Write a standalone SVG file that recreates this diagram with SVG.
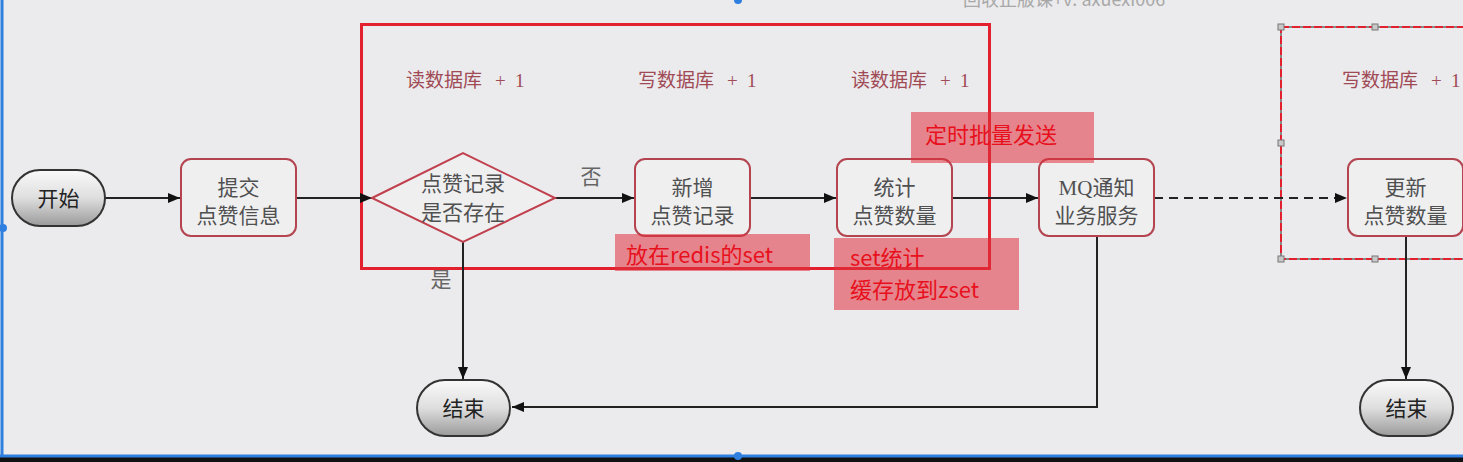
<svg xmlns="http://www.w3.org/2000/svg" width="1463" height="462" viewBox="0 0 1463 462">
<style>
.node rect.box{fill:#efeff0;stroke:#b4444f;stroke-width:2}
.t{font-family:"Noto Sans CJK SC","Noto Sans",sans-serif;font-size:21px;fill:#505050;text-anchor:middle}
.lbl{font-family:"Noto Sans CJK SC","Liberation Serif",serif;font-size:19px;fill:#a04a55}
.note{font-family:"Noto Sans CJK SC","Noto Sans",sans-serif;font-size:22px;fill:#e8101c}
.pink{fill:#e0303c;fill-opacity:0.55}
.pill{fill:url(#pg);stroke:#333;stroke-width:2}
.c{stroke:#222;stroke-width:2;fill:none}
</style>
<defs>
<linearGradient id="pg" x1="0" y1="0" x2="0" y2="1">
<stop offset="0" stop-color="#fafafa"/>
<stop offset="0.5" stop-color="#dedede"/>
<stop offset="1" stop-color="#9a9a9a"/>
</linearGradient>
<marker id="ah" viewBox="0 0 12 10" refX="12" refY="5" markerWidth="12" markerHeight="10" markerUnits="userSpaceOnUse" orient="auto">
<path d="M0,0 L12,5 L0,10 z" fill="#111"/>
</marker>
</defs>
<rect x="0" y="0" width="1463" height="462" fill="#ebebed"/>
<text x="963" y="6" font-family="Noto Sans CJK SC,Liberation Sans,sans-serif" font-size="18" fill="#a8a8a8">回收正版课+v: axuexi006</text>

<!-- frames -->
<rect x="361.5" y="24.5" width="628" height="244" fill="none" stroke="#e3202e" stroke-width="3"/>
<g id="frame2">
<rect x="1281" y="27" width="200" height="232" fill="none" stroke="#888" stroke-width="2"/>
<rect x="1281" y="27" width="200" height="232" fill="none" stroke="#e3202e" stroke-width="2" stroke-dasharray="8 3"/>
<g fill="#c8c8c8" stroke="#777" stroke-width="1">
<rect x="1278" y="24" width="6" height="6"/><rect x="1372" y="24" width="6" height="6"/>
<rect x="1278" y="140" width="6" height="6"/><rect x="1278" y="256" width="6" height="6"/>
<rect x="1372" y="256" width="6" height="6"/>
</g>
</g>

<g id="labels">
<text class="lbl" y="87"><tspan x="406">读数据库</tspan><tspan x="495" font-family="Liberation Serif,serif">+</tspan><tspan x="515" font-family="Liberation Serif,serif">1</tspan></text>
<text class="lbl" y="87"><tspan x="638">写数据库</tspan><tspan x="727" font-family="Liberation Serif,serif">+</tspan><tspan x="747" font-family="Liberation Serif,serif">1</tspan></text>
<text class="lbl" y="87"><tspan x="851">读数据库</tspan><tspan x="940" font-family="Liberation Serif,serif">+</tspan><tspan x="960" font-family="Liberation Serif,serif">1</tspan></text>
<text class="lbl" y="87"><tspan x="1342">写数据库</tspan><tspan x="1431" font-family="Liberation Serif,serif">+</tspan><tspan x="1451" font-family="Liberation Serif,serif">1</tspan></text>
</g>

<g id="connectors">
<line class="c" x1="105" y1="198" x2="180" y2="198" marker-end="url(#ah)"/>
<line class="c" x1="296" y1="198" x2="372" y2="198" marker-end="url(#ah)"/>
<line class="c" x1="555" y1="198" x2="634" y2="198" marker-end="url(#ah)"/>
<line class="c" x1="750" y1="198" x2="836" y2="198" marker-end="url(#ah)"/>
<line class="c" x1="952" y1="198" x2="1038" y2="198" marker-end="url(#ah)"/>
<line class="c" x1="1154" y1="198" x2="1347" y2="198" stroke-dasharray="9 6" marker-end="url(#ah)"/>
<line class="c" x1="463" y1="242" x2="463" y2="379" marker-end="url(#ah)"/>
<polyline class="c" points="1097,236 1097,407 512,407" marker-end="url(#ah)"/>
<line class="c" x1="1406" y1="236" x2="1406" y2="379" marker-end="url(#ah)"/>
<text class="t" x="591" y="184" font-size="18" style="fill:#666">否</text>
<text class="t" x="441" y="287" font-size="18" style="fill:#666">是</text>
</g>

<g id="start" class="node"><rect class="pill" x="12" y="170" width="93" height="56" rx="28"/><text class="t" x="58.5" y="206" style="fill:#222">开始</text></g>
<g id="submit" class="node"><rect class="box" x="181" y="159" width="115" height="77" rx="10"/><text class="t" x="238.5" y="195">提交</text><text class="t" x="238.5" y="223">点赞信息</text></g>
<g id="decision" class="node"><polygon points="372,198 463,153 555,198 463,242" fill="#efeff0" stroke="#c0404d" stroke-width="2"/><text class="t" x="463" y="191" font-size="20">点赞记录</text><text class="t" x="463" y="220" font-size="20">是否存在</text></g>
<g id="add" class="node"><rect class="box" x="635" y="159" width="115" height="77" rx="10"/><text class="t" x="692.5" y="195">新增</text><text class="t" x="692.5" y="223">点赞记录</text></g>
<g id="count" class="node"><rect class="box" x="837" y="159" width="115" height="77" rx="10"/><text class="t" x="894.5" y="195">统计</text><text class="t" x="894.5" y="223">点赞数量</text></g>
<g id="mq" class="node"><rect class="box" x="1039" y="159" width="115" height="77" rx="10"/><text class="t" x="1096.5" y="195"><tspan font-family="Liberation Serif,serif">MQ</tspan>通知</text><text class="t" x="1096.5" y="223">业务服务</text></g>
<g id="update" class="node"><rect class="box" x="1348" y="159" width="115" height="77" rx="10"/><text class="t" x="1405.5" y="195">更新</text><text class="t" x="1405.5" y="223">点赞数量</text></g>
<g id="end1" class="node"><rect class="pill" x="417" y="380" width="93" height="56" rx="28"/><text class="t" x="463.5" y="416" style="fill:#222">结束</text></g>
<g id="end2" class="node"><rect class="pill" x="1360" y="380" width="93" height="56" rx="28"/><text class="t" x="1406.5" y="416" style="fill:#222">结束</text></g>

<g id="notes">
<rect class="pink" x="911" y="112" width="183" height="51"/>
<text class="note" x="925" y="143">定时批量发送</text>
<rect class="pink" x="615" y="234" width="195" height="37"/>
<text class="note" x="626" y="263">放在redis的set</text>
<rect class="pink" x="834" y="238" width="185" height="72"/>
<text class="note" x="850" y="266">set统计</text>
<text class="note" x="850" y="298">缓存放到zset</text>
</g>

<g id="selection">
<line x1="2" y1="0" x2="2" y2="457" stroke="#2f7fe0" stroke-width="3"/>
<rect x="0" y="457" width="1463" height="5" fill="#111"/>
<line x1="0" y1="456" x2="1463" y2="456" stroke="#2f7fe0" stroke-width="3"/>
<circle cx="3" cy="228" r="4" fill="#2f7fe0"/>
<circle cx="738" cy="0" r="4" fill="#2f7fe0"/>
<circle cx="738" cy="456" r="4" fill="#2f7fe0"/>
</g>
</svg>
